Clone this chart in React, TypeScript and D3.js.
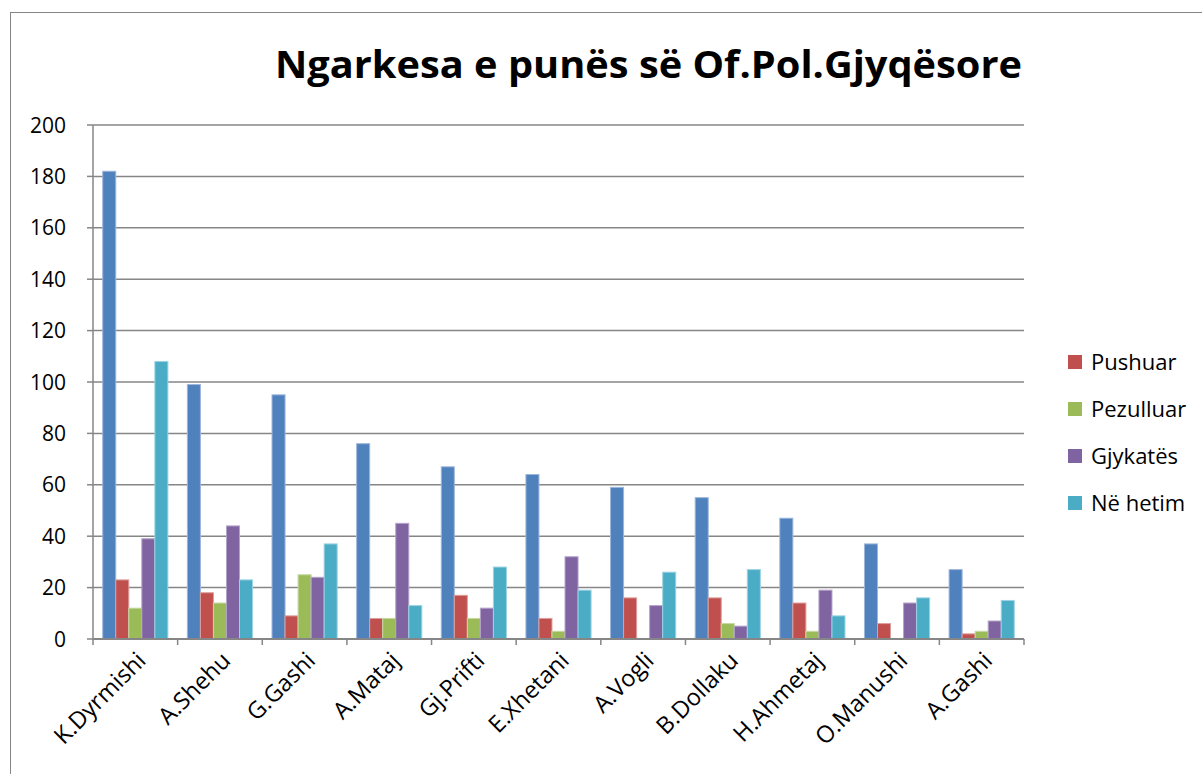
import React from 'react';
import * as d3 from 'd3';

const categories = [
  'K.Dyrmishi', 'A.Shehu', 'G.Gashi', 'A.Mataj', 'Gj.Prifti', 'E.Xhetani',
  'A.Vogli', 'B.Dollaku', 'H.Ahmetaj', 'O.Manushi', 'A.Gashi',
];

// first series has no entry in the legend of the original
const totals = [182, 99, 95, 76, 67, 64, 59, 55, 47, 37, 27];
const pushuar = [23, 18, 9, 8, 17, 8, 16, 16, 14, 6, 2];
const pezulluar = [12, 14, 25, 8, 8, 3, 0, 6, 3, 0, 3];
const gjykates = [39, 44, 24, 45, 12, 32, 13, 5, 19, 14, 7];
const neHetim = [108, 23, 37, 13, 28, 19, 26, 27, 9, 16, 15];

const seriesNames = ['', 'Pushuar', 'Pezulluar', 'Gjykatës', 'Në hetim'];
const seriesValues = [totals, pushuar, pezulluar, gjykates, neHetim];
const colors = ['#4F81BD', '#C0504D', '#9BBB59', '#8064A2', '#4BACC6'];
const strokes = ['#9DB6DC', '#DC9F9D', '#C5D8A3', '#B3A3C9', '#9CD3E2'];
const yTicks = [0, 20, 40, 60, 80, 100, 120, 140, 160, 180, 200];

const W = 1202;
const H = 774;
const margin = { left: 93, right: 178, top: 125, bottom: 135 };
const font = '"Open Sans", "Noto Sans", sans-serif';

export default function App() {
  const x0 = d3
    .scaleBand<string>()
    .domain(categories)
    .range([margin.left, W - margin.right])
    .paddingInner(0.23)
    .paddingOuter(0.115);
  const x1 = d3
    .scaleBand<number>()
    .domain(d3.range(seriesValues.length))
    .range([0, x0.bandwidth()]);
  const y = d3.scaleLinear().domain([0, 200]).range([H - margin.bottom, margin.top]);

  const legendItems = seriesNames
    .map((name, i) => ({ name, i }))
    .filter(d => d.name !== '');

  return (
    <svg width={W} height={H} style={{ position: 'absolute', left: 0, top: 0 }}>
      <rect x={0} y={0} width={W} height={H} fill="#fff" />
      <rect x={10.5} y={12.5} width={W} height={H} fill="none" stroke="#868686" strokeWidth={1} />

      <text
        x={275}
        y={78}
        textLength={747}
        lengthAdjust="spacingAndGlyphs"
        fontFamily={font}
        fontWeight="bold"
        fontSize={37}
        fill="#000"
      >
        Ngarkesa e punës së Of.Pol.Gjyqësore
      </text>

      {yTicks.map(t => (
        <g key={t}>
          <line
            x1={margin.left}
            x2={W - margin.right}
            y1={y(t)}
            y2={y(t)}
            stroke="#868686"
            strokeWidth={1.5}
          />
          <line x1={margin.left - 6} x2={margin.left} y1={y(t)} y2={y(t)} stroke="#868686" strokeWidth={1.5} />
          <text
            x={66}
            y={y(t)}
            dy="0.36em"
            textAnchor="end"
            fontFamily={font}
            fontSize={21}
            fill="#000"
          >
            {t}
          </text>
        </g>
      ))}
      <line
        x1={margin.left}
        x2={margin.left}
        y1={y(200)}
        y2={y(0)}
        stroke="#868686"
        strokeWidth={1.5}
      />

      {categories.map((c, ci) => (
        <g key={c} transform={`translate(${x0(c)},0)`}>
          {seriesValues.map((vals, si) => {
            const v = vals[ci];
            if (v <= 0) return null;
            return (
              <rect
                key={si}
                x={x1(si)!}
                y={y(v)}
                width={x1.bandwidth()}
                height={y(0) - y(v)}
                fill={colors[si]}
                stroke={strokes[si]}
                strokeWidth={1}
              />
            );
          })}
        </g>
      ))}

      <line
        x1={margin.left}
        x2={W - margin.right}
        y1={y(0)}
        y2={y(0)}
        stroke="#868686"
        strokeWidth={2}
      />
      {d3.range(categories.length + 1).map(i => {
        const xx = margin.left + (i * (W - margin.right - margin.left)) / categories.length;
        return (
          <line key={i} x1={xx} x2={xx} y1={y(0)} y2={y(0) + 6} stroke="#868686" strokeWidth={1.5} />
        );
      })}

      {categories.map(c => {
        const cx = x0(c)! + x0.bandwidth() / 2 + 6;
        const cy = y(0) + 17;
        return (
          <text
            key={c}
            transform={`translate(${cx},${cy}) rotate(-45)`}
            textAnchor="end"
            dy="0.36em"
            fontFamily={font}
            fontSize={23.5}
            fill="#000"
          >
            {c}
          </text>
        );
      })}

      {legendItems.map((d, k) => {
        const ly = 362 + k * 47;
        return (
          <g key={d.name}>
            <rect x={1068} y={ly - 7} width={14} height={14} fill={colors[d.i]} />
            <text x={1091} y={ly} dy="0.36em" fontFamily={font} fontSize={22} fill="#000">
              {d.name}
            </text>
          </g>
        );
      })}
    </svg>
  );
}
